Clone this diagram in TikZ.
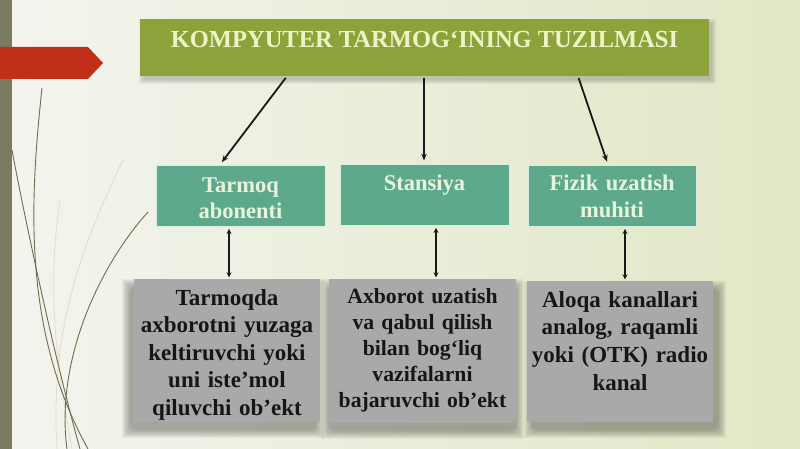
\documentclass[tikz,border=0pt]{standalone}
\usepackage{fontspec}
\setmainfont{Liberation Serif}
\usetikzlibrary{arrows.meta,calc}
\pgfdeclarelayer{back}
\pgfdeclarelayer{shadow}
\pgfsetlayers{back,shadow,main}
\definecolor{bgL}{HTML}{F4F4EF}
\definecolor{bgM}{HTML}{EDEFDF}
\definecolor{bgR}{HTML}{E1E7C5}
\definecolor{barcol}{HTML}{7A7B5E}
\definecolor{redarr}{HTML}{BF2F1A}
\definecolor{decocol}{HTML}{6E6E4E}
\definecolor{titlegreen}{HTML}{8CA23A}
\definecolor{titletext}{HTML}{EEF3C3}
\definecolor{tealfill}{HTML}{5EA98C}
\definecolor{tealborder}{HTML}{D8EEE2}
\definecolor{midtext}{HTML}{E8F4DC}
\definecolor{grayfill}{HTML}{A9A9A9}
\definecolor{lowtext}{HTML}{161616}
\tikzset{
  deco/.style={draw=decocol, line width=0.9pt},
  faint/.style={draw=decocol, line width=0.7pt, opacity=0.18},
  titlebox/.style={rectangle, fill=titlegreen, inner sep=0pt,
    minimum width=569pt, minimum height=57pt},
  titletxt/.style={inner sep=0pt, text=titletext, font=\fontsize{24.5}{29}\selectfont\bfseries},
  midbox/.style={rectangle, fill=tealfill, draw=tealborder, line width=0.8pt, inner sep=0pt, minimum height=61pt},
  midtxt/.style={inner sep=0pt, text=midtext, text width=166pt, align=center, font=\fontsize{22.5}{26}\selectfont\bfseries},
  lowbox/.style={rectangle, fill=grayfill, inner sep=0pt},
  lowtxt/.style={inner sep=0pt, text=lowtext, text width=184pt, align=center},
  shadowpiece/.style={fill=black, opacity=0.04},
  arr/.style={-{Stealth[length=7pt,width=5.5pt]}, line width=1.8pt, black!90, shorten <=2pt, shorten >=3pt},
  dbl/.style={{Stealth[length=5pt,width=5pt]}-{Stealth[length=5pt,width=5pt]}, line width=1.5pt, black!90, shorten <=2.5pt, shorten >=1.5pt}
}
% soft shadow: #1 node, #2 dx, #3 dy (down positive), #4 spread
\newcommand{\softshadow}[4]{%
  \foreach \r in {0,...,#4}{%
    \fill[shadowpiece, rounded corners=\r pt] ($(#1.south west)+(#2-#4+\r,#3+#4-\r)$) rectangle ($(#1.north east)+(#2+#4-\r,#3-#4+\r)$);
  }%
}
\begin{document}
\begin{tikzpicture}[x=1pt,y=-1pt]
\useasboundingbox (0,0) rectangle (800,449);
\begin{pgfonlayer}{back}
% background
\shade[left color=bgL, middle color=bgM, right color=bgR] (0,0) rectangle (800,449);
% decorative curves
\draw[faint] (123,160) .. controls (80,250) and (50,330) .. (57,449);
\draw[faint] (60,200) .. controls (45,300) and (60,380) .. (72,449);
\draw[deco] (42,88) .. controls (30,200) and (22,330) .. (88,449);
\draw[deco] (12,150) .. controls (25,220) and (55,360) .. (80,449);
\draw[deco] (148,212) .. controls (100,265) and (55,360) .. (67,449);
% left bar and red arrow
\fill[barcol] (0,0) rectangle (12,449);
\fill[redarr] (0,47) -- (88,47) -- (103,63) -- (88,79) -- (0,79) -- cycle;
\end{pgfonlayer}
% title
\node[titlebox] (title) at (424.5,47.5) {};
\node[titletxt, anchor=base] (titlet) at (424.5,48) {KOMPYUTER TARMOG‘INING TUZILMASI};
% middle row
\node[midbox, minimum width=169pt] (m1) at (240.5,195.5) {};
\node[midbox, minimum width=169pt] (m2) at (424.5,194.5) {};
\node[midbox, minimum width=168pt] (m3) at (612,195.5) {};
\node[midtxt, anchor=base] (m1t) at (240.5,192.5) {Tarmoq\\abonenti};
\node[midtxt, anchor=base] (m2t) at (424.5,190) {Stansiya};
\node[midtxt, anchor=base] (m3t) at (612,191) {Fizik uzatish\\muhiti};
% bottom row
\node[lowbox, minimum width=186pt, minimum height=143pt] (b1) at (227,350.5) {};
\node[lowbox, minimum width=187pt, minimum height=144pt] (b2) at (422.5,351) {};
\node[lowbox, minimum width=186pt, minimum height=141pt] (b3) at (620,351.5) {};
\node[lowtxt, anchor=base, font=\fontsize{23}{27.5}\selectfont\bfseries] (b1t) at (227,305)
  {Tarmoqda\\axborotni yuzaga\\keltiruvchi yoki\\uni iste’mol\\qiluvchi ob’ekt};
\node[lowtxt, anchor=base, font=\fontsize{21.7}{26}\selectfont\bfseries] (b2t) at (422.5,303)
  {Axborot uzatish\\va qabul qilish\\bilan bog‘liq\\vazifalarni\\bajaruvchi ob’ekt};
\node[lowtxt, anchor=base, font=\fontsize{23}{27.7}\selectfont\bfseries] (b3t) at (620,307)
  {Aloqa kanallari\\analog, raqamli\\yoki (OTK) radio\\kanal};
% shadows
\begin{pgfonlayer}{shadow}
\softshadow{title}{3}{4}{4}
\softshadow{b1}{-4}{8}{8}
\softshadow{b2}{0}{8}{8}
\softshadow{b3}{5}{8}{8}
\end{pgfonlayer}
% connectors
\draw[arr] (287,0 |- title.south) -- (220,0 |- m1.north);
\draw[arr] (424,0 |- title.south) -- (424,0 |- m2.north);
\draw[arr] (578,0 |- title.south) -- (608,0 |- m3.north);
\draw[dbl] (229,0 |- m1.south) -- (229,0 |- b1.north);
\draw[dbl] (436,0 |- m2.south) -- (436,0 |- b2.north);
\draw[dbl] (625,0 |- m3.south) -- (625,0 |- b3.north);
\end{tikzpicture}
\end{document}
